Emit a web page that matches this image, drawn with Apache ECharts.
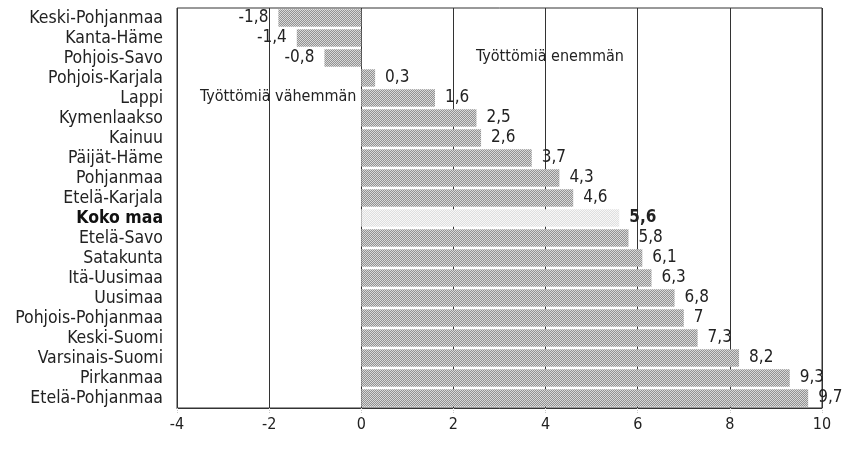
<!DOCTYPE html>
<html><head><meta charset="utf-8">
<script src="https://cdn.jsdelivr.net/npm/echarts@6/dist/echarts.min.js"></script>
<style>html,body{margin:0;padding:0;background:#fff}#c{width:842px;height:467px}</style>
</head><body><div id="c"></div>
<script>
var categories = ['Keski-Pohjanmaa','Kanta-Häme','Pohjois-Savo','Pohjois-Karjala','Lappi','Kymenlaakso','Kainuu','Päijät-Häme','Pohjanmaa','Etelä-Karjala','Koko maa','Etelä-Savo','Satakunta','Itä-Uusimaa','Uusimaa','Pohjois-Pohjanmaa','Keski-Suomi','Varsinais-Suomi','Pirkanmaa','Etelä-Pohjanmaa'];
var values = [-1.8,-1.4,-0.8,0.3,1.6,2.5,2.6,3.7,4.3,4.6,5.6,5.8,6.1,6.3,6.8,7,7.3,8.2,9.3,9.7];
var highlight = 'Koko maa';
var xTicks = [-4,-2,0,2,4,6,8,10];

var FONT = "'Liberation Sans Narrow','DejaVu Sans Condensed',sans-serif";
function pattern(a,b){
  var c=document.createElement('canvas');c.width=4;c.height=4;
  var g=c.getContext('2d');
  for(var i=0;i<4;i++)for(var j=0;j<4;j++){g.fillStyle=((i+j)%2)?a:b;g.fillRect(i,j,1,1);}
  return {image:c,repeat:'repeat'};
}
var pDark = pattern('#929292','#d8d8d8');
var pLight = pattern('#dedede','#f7f7f7');

var data = values.map(function(v,i){
  var hl = categories[i]===highlight;
  return {value:v,
    itemStyle:{color: hl?pLight:pDark},
    label:{fontWeight: hl?'bold':'normal', position: v<0?'left':'right'}};
});

var chart = echarts.init(document.getElementById('c'));
chart.setOption({
  animation:false,
  grid:{left:177,right:20,top:8,bottom:59,show:true,borderColor:'#333',borderWidth:1,containLabel:false},
  xAxis:{type:'value',min:xTicks[0],max:xTicks[xTicks.length-1],interval:2,
    axisLine:{show:true,lineStyle:{color:'#333'}},
    axisTick:{show:true,length:5,lineStyle:{color:'#c8c8c8',type:'dotted'}},
    axisLabel:{color:'#222',fontSize:16,fontFamily:FONT,margin:9},
    splitLine:{show:true,lineStyle:{color:'#333',width:1}}},
  yAxis:{type:'category',data:categories,inverse:true,
    axisLine:{show:false},axisTick:{show:false},
    axisLabel:{color:'#222',fontSize:17.5,fontFamily:FONT,margin:14,interval:0,
      formatter:function(v){return v===highlight?'{b|'+v+'}':v;},
      rich:{b:{fontWeight:'bold',fontSize:17.5,fontFamily:FONT,color:'#111'}}},
    splitLine:{show:false}},
  series:[{type:'bar',data:data,barCategoryGap:'13%',
    label:{show:true,color:'#222',fontSize:17,fontFamily:FONT,distance:10,
      formatter:function(p){return String(p.value).replace('.',',');}}}],
  graphic:[
    {type:'text',left:200,top:89,style:{text:'Työttömiä vähemmän',font:'16px '+FONT,fill:'#222'}},
    {type:'text',left:476,top:49,style:{text:'Työttömiä enemmän',font:'16px '+FONT,fill:'#222'}}
  ]
});
</script></body></html>
